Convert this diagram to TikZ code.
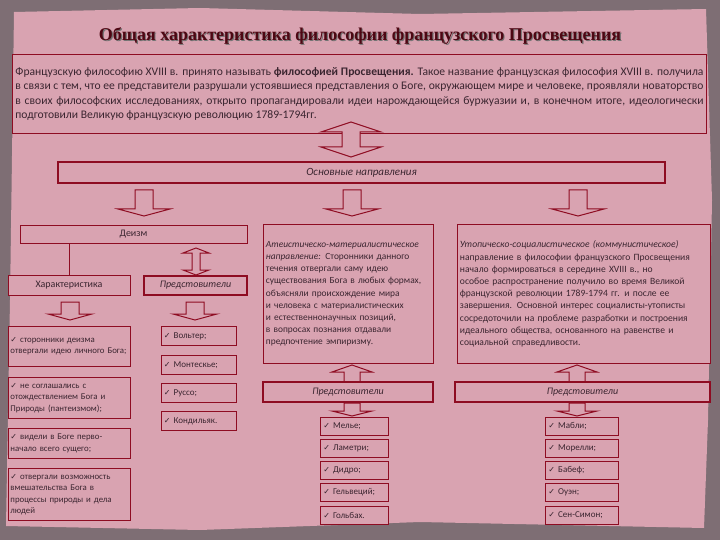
\documentclass[tikz,border=0pt]{standalone}
\usepackage{fontspec}
\setmainfont{Carlito}
\newfontfamily\titlefont{Liberation Serif}
\newfontfamily\dvfont{DejaVu Sans}
\newcommand\ck{{\dvfont\footnotesize ✓}}
\definecolor{paper}{HTML}{D9A3B1}
\definecolor{frame}{HTML}{7E6E74}
\definecolor{bord}{HTML}{8E0C22}
\definecolor{ink}{HTML}{3B2530}
\tikzset{
  box/.style={draw=bord,line width=0.9pt,fill=paper,text=ink,inner sep=2pt,font=\fontsize{10}{12}\selectfont},
  thick box/.style={box,line width=1.6pt},
  barr/.style={draw=bord,line width=1pt,fill=paper,line join=miter},
}
\newcommand\dnarr[6]{\draw[barr] (#1-#4,#2) -- (#1+#4,#2) -- (#1+#4,#3-#6) -- (#1+#5,#3-#6) -- (#1,#3) -- (#1-#5,#3-#6) -- (#1-#4,#3-#6) -- cycle;}
\newcommand\uparr[6]{\draw[barr] (#1-#4,#3) -- (#1+#4,#3) -- (#1+#4,#2+#6) -- (#1+#5,#2+#6) -- (#1,#2) -- (#1-#5,#2+#6) -- (#1-#4,#2+#6) -- cycle;}
\newcommand\udarr[6]{\draw[barr] (#1,#2) -- (#1+#5,#2+#6) -- (#1+#4,#2+#6) -- (#1+#4,#3-#6) -- (#1+#5,#3-#6) -- (#1,#3) -- (#1-#5,#3-#6) -- (#1-#4,#3-#6) -- (#1-#4,#2+#6) -- (#1-#5,#2+#6) -- cycle;}
\begin{document}
\begin{tikzpicture}[x=1pt,y=-1pt]
\useasboundingbox (0,0) rectangle (720,540);
\fill[frame] (0,0) rectangle (720,540);
\fill[paper] (14,12) -- (200,8) -- (420,14) -- (706,9) -- (712,200) -- (708,420) -- (704,528) -- (420,522) -- (200,530) -- (6,526) -- (10,300) -- cycle;
\node[font=\titlefont\bfseries\fontsize{18}{20}\selectfont,text=black!55] (titleshadow) at (361.2,37.2) {Общая характеристика философии французского Просвещения};
\node[font=\titlefont\bfseries\fontsize{18}{20}\selectfont,text=bord!55!black] (title) at (360,36) {Общая характеристика философии французского Просвещения};
\node[box,anchor=north west,minimum width=694pt,minimum height=79pt,text width=688pt,align=justify,font=\fontsize{11.6}{14.5}\selectfont,inner sep=3pt] (intro) at (12,54) {Французскую философию XVIII в. принято называть \textbf{философией Просвещения.} Такое название французская философия XVIII в. получила в связи с тем, что ее представители разрушали устоявшиеся представления о Боге, окружающем мире и человеке, проявляли новаторство в своих философских исследованиях, открыто пропагандировали идеи нарождающейся буржуазии и, в конечном итоге, идеологически подготовили Великую французскую революцию 1789-1794гг.};
\udarr{351}{122}{157}{9}{30}{10}
\node[thick box,minimum width=607pt,minimum height=21pt,font=\itshape\fontsize{11}{12}\selectfont] (main) at (361.5,172.5) {Основные направления};
\dnarr{144}{190}{216}{9}{26}{7}
\dnarr{352}{190}{216}{9}{26}{7}
\dnarr{578}{190}{216}{9}{26}{7}
\node[box,minimum width=227pt,minimum height=18pt] (deism) at (133.5,234) {Деизм};
\node[box,minimum width=122pt,minimum height=20pt] (char) at (69,285) {Характеристика};
\node[thick box,minimum width=103pt,minimum height=19pt,font=\itshape\fontsize{10}{12}\selectfont] (rep1) at (195.5,285.5) {Предстовители};
\draw[bord,line width=0.8pt] (char.north |- deism.south) -- (char.north);
\udarr{196}{248}{275}{4}{13}{5}
\dnarr{70}{302}{320}{9}{22}{6}
\dnarr{195}{302}{320}{9}{22}{6}
\tikzset{lb/.style={box,anchor=north west,minimum width=122pt,text width=118pt,align=left,font=\fontsize{8.8}{11.5}\selectfont}}
\node[lb,minimum height=40pt] (c1) at (8,326) {\ck\ сторонники деизма отвергали идею личного Бога;};
\node[lb,minimum height=41pt] (c2) at (8,377) {\ck\ не соглашались с отождествлением Бога и Природы (пантеизмом);};
\node[lb,minimum height=30pt] (c3) at (8,428) {\ck\ видели в Боге перво-начало всего сущего;};
\node[lb,minimum height=52pt] (c4) at (8,468) {\ck\ отвергали возможность вмешательства Бога в процессы природы и дела людей};
\tikzset{sb/.style={box,anchor=north west,minimum width=75pt,minimum height=19pt,text width=70pt,align=left,font=\fontsize{9}{11}\selectfont}}
\node[sb] (v1) at (161,326) {\ck\ Вольтер;};
\node[sb] (v2) at (161,355) {\ck\ Монтескье;};
\node[sb] (v3) at (161,383) {\ck\ Руссо;};
\node[sb] (v4) at (161,411) {\ck\ Кондильяк.};
\node[box,anchor=north west,minimum width=170pt,minimum height=139pt,text width=165pt,align=left,font=\fontsize{9.4}{12.2}\selectfont] (ath) at (263,224) {\textit{Атеистическо-материалистическое направление:} Сторонники данного течения отвергали саму идею существования Бога в любых формах, объясняли происхождение мира и человека с материалистических и естественнонаучных позиций, в вопросах познания отдавали предпочтение эмпиризму.};
\node[box,anchor=north west,minimum width=253pt,minimum height=139pt,text width=248pt,align=left,font=\fontsize{9.6}{12.2}\selectfont] (utop) at (457,224) {\textit{Утопическо-социалистическое (коммунистическое)} направление в философии французского Просвещения начало формироваться в середине XVIII в., но особое распространение получило во время Великой французской революции 1789-1794 гг. и после ее завершения. Основной интерес социалисты-утописты сосредоточили на проблеме разработки и построения идеального общества, основанного на равенстве и социальной справедливости.};
\uparr{352}{365}{385}{8}{20}{7}
\uparr{577}{365}{385}{8}{20}{7}
\node[thick box,minimum width=170pt,minimum height=20pt,font=\itshape\fontsize{10}{12}\selectfont] (rep2) at (348,392) {Предстовители};
\node[thick box,minimum width=255pt,minimum height=20pt,font=\itshape\fontsize{10}{12}\selectfont] (rep3) at (582.5,392) {Предстовители};
\dnarr{352}{403}{416}{8}{20}{5}
\dnarr{577}{403}{416}{8}{20}{5}
\tikzset{mb/.style={box,anchor=north west,minimum width=68pt,minimum height=18pt,text width=62pt,align=left,font=\fontsize{9}{11}\selectfont}}
\node[mb] (m1) at (320,417) {\ck\ Мелье;};
\node[mb] (m2) at (320,439) {\ck\ Ламетри;};
\node[mb] (m3) at (320,461) {\ck\ Дидро;};
\node[mb] (m4) at (320,483) {\ck\ Гельвеций;};
\node[mb] (m5) at (320,506) {\ck\ Гольбах.};
\tikzset{rb/.style={mb,minimum width=73pt,text width=67pt}}
\node[rb] (u1) at (545,417) {\ck\ Мабли;};
\node[rb] (u2) at (545,439) {\ck\ Морелли;};
\node[rb] (u3) at (545,461) {\ck\ Бабеф;};
\node[rb] (u4) at (545,483) {\ck\ Оуэн;};
\node[rb] (u5) at (545,506) {\ck\ Сен-Симон;};
\end{tikzpicture}
\end{document}
